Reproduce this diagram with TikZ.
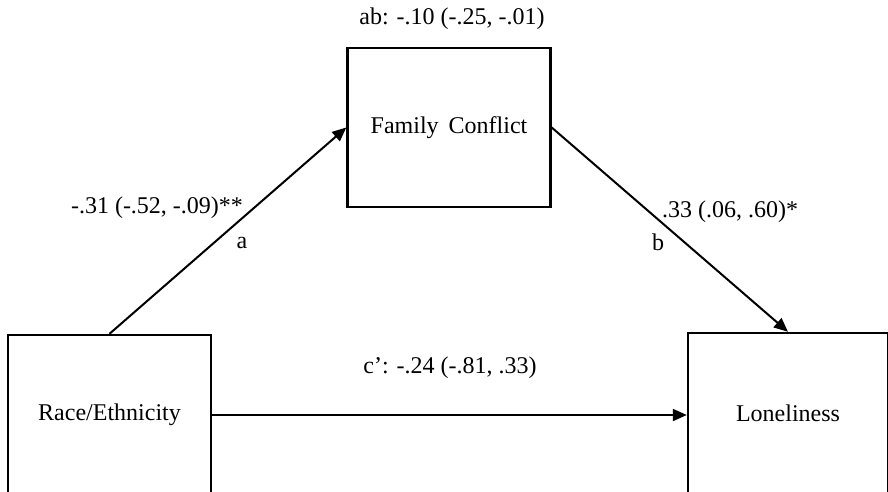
\documentclass[tikz,border=0pt]{standalone}
\usepackage{fontspec}
\setmainfont{Liberation Serif}
\usepackage{tikz}
\usetikzlibrary{calc,arrows.meta}

\begin{document}
\begin{tikzpicture}[x=0.5pt, y=-0.5pt,
    var/.style={rectangle, draw=black, line width=1.2pt, fill=white, minimum width=101.5pt, minimum height=80pt, font=\fontsize{12}{14}\selectfont},
    path/.style={line width=1pt, -{Triangle[length=7pt, width=6pt]}},
    est/.style={font=\fontsize{12}{14}\selectfont, inner sep=0pt}]
    \useasboundingbox (0,0) rectangle (888,492);
    \clip (0,0) rectangle (888,492);

    \node[var] (race) at (109.5, 415) {Race/Ethnicity};
    
    \node[var, minimum height=79.5pt] (conflict) at ($(race) + (339.5, -287.5)$) {Family\, Conflict};
    
    \node[var, minimum width=100pt] (lonely) at ($(race) + (678.5, -2)$) {Loneliness};
    
    
    
    \draw[path] (race.north) -- (conflict.west);
    \draw[path] (conflict.east) -- (lonely.north);
    \draw[path] (race.east) -- (race.east -| lonely.west);
    
    \node[est] (ab) at ($(conflict.north) + (3, -28)$) {ab: -.10 (-.25, -.01)};
    \node[est] (alab) at (157, 208) {-.31 (-.52, -.09)**};
    \node[est] (a) at (242, 243) {a};
    \node[est] (blab) at (730, 212) {.33 (.06, .60)*};
    \node[est] (b) at (658, 242) {b};
    \node[est] (clab) at (450, 368) {c’: -.24 (-.81, .33)};
    
    \end{tikzpicture}
\end{document}
